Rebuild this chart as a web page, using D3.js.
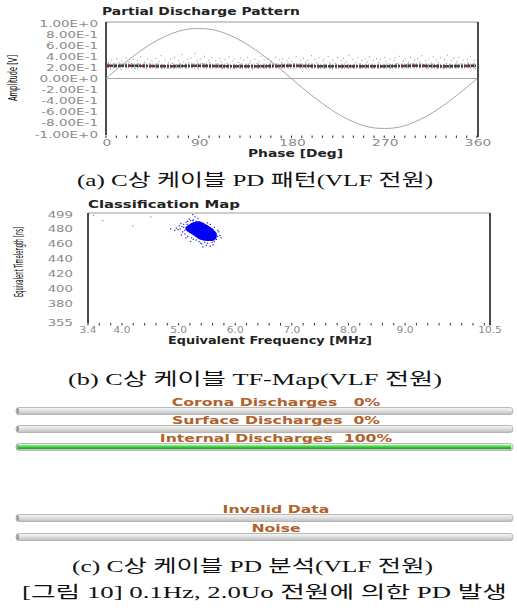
<!DOCTYPE html>
<html>
<head>
<meta charset="utf-8">
<script src="https://cdn.jsdelivr.net/npm/d3@7"></script>
<style>
  body { margin: 0; background: #fff; }
  svg { display: block; }
  .tick-lbl { font-family: "DejaVu Sans", Verdana, sans-serif; font-size: 9.5px; fill: #8a8a8a; }
  .ttl { font-family: "DejaVu Sans", Verdana, sans-serif; font-weight: bold; font-size: 10px; fill: #222; }
  .ylab { font-family: "Liberation Sans Narrow", "DejaVu Sans Condensed", sans-serif; font-size: 12.5px; fill: #000; }
  .cap { font-family: "Liberation Serif", "DejaVu Serif", "Noto Sans CJK KR", serif; font-size: 17px; fill: #111; }
  .barlbl { font-family: "DejaVu Sans", Verdana, sans-serif; font-weight: bold; font-size: 9.8px; fill: #b0612c; white-space: pre; }
</style>
</head>
<body>
<div id="fig"></div>
<script>
// ---- données ----

// (a) motif de décharges partielles
const phaseLabels = [0, 90, 180, 270, 360]
const ampLabels = ["1.00E+0", "8.00E-1", "6.00E-1", "4.00E-1", "2.00E-1", "0.00E+0",
  "-2.00E-1", "-4.00E-1", "-6.00E-1", "-8.00E-1", "-1.00E+0"]
const ampValues = [1, 0.8, 0.6, 0.4, 0.2, 0, -0.2, -0.4, -0.6, -0.8, -1]

// onde de référence (lue tous les 10 deg)
const wavePhase = [0,10,20,30,40,50,60,70,80,90,100,110,120,130,140,150,160,170,180,
  190,200,210,220,230,240,250,260,270,280,290,300,310,320,330,340,350,360]
const waveAmp = [0,0.16,0.31,0.45,0.58,0.69,0.78,0.85,0.89,0.9,0.89,0.85,0.78,0.69,0.58,0.45,0.31,0.16,0,
  -0.16,-0.31,-0.45,-0.58,-0.69,-0.78,-0.85,-0.89,-0.9,-0.89,-0.85,-0.78,-0.69,-0.58,-0.45,-0.31,-0.16,0]

// bande dense des impulsions
const corePhase = [1, 30, 60, 90, 120, 150, 180, 210, 240, 270, 300, 330, 359]
const coreAmp = [0.23, 0.23, 0.22, 0.23, 0.22, 0.22, 0.23, 0.22, 0.22, 0.22, 0.23, 0.22, 0.23]

// impulsions isolées [phase, amplitude]
const pdPoints = [[2,0.30],[4,0.18],[5,0.34],[7,0.27],[9,0.21],[10,0.36],[12,0.29],[14,0.17],[15,0.32],[17,0.26],
  [19,0.38],[21,0.20],[22,0.31],[24,0.28],[26,0.35],[28,0.19],[30,0.33],[31,0.27],[33,0.40],[35,0.24],[37,0.30],
  [39,0.18],[40,0.36],[42,0.29],[44,0.33],[46,0.21],[48,0.37],[50,0.27],[51,0.31],[53,0.42],[55,0.25],[57,0.34],
  [59,0.19],[60,0.30],[62,0.36],[64,0.28],[66,0.39],[68,0.22],[70,0.33],[71,0.27],[73,0.44],[75,0.31],[77,0.20],
  [79,0.35],[80,0.29],[82,0.38],[84,0.25],[86,0.46],[88,0.32],[89,0.18],[91,0.36],[93,0.28],[95,0.41],[97,0.24],
  [99,0.34],[100,0.30],[102,0.39],[104,0.21],[106,0.33],[108,0.27],[110,0.37],[111,0.31],[113,0.19],[115,0.35],
  [117,0.28],[119,0.40],[120,0.26],[122,0.32],[124,0.36],[126,0.20],[128,0.30],[130,0.38],[131,0.27],[133,0.34],
  [135,0.22],[137,0.39],[139,0.29],[140,0.33],[142,0.18],[144,0.36],[146,0.28],[148,0.31],[150,0.41],[151,0.25],
  [153,0.34],[155,0.20],[157,0.37],[159,0.29],[160,0.32],[162,0.27],[164,0.39],[166,0.21],[168,0.35],[170,0.30],
  [171,0.36],[173,0.24],[175,0.33],[177,0.38],[179,0.19],[180,0.31],[182,0.28],[184,0.40],[186,0.25],[188,0.34],
  [190,0.21],[191,0.37],[193,0.30],[195,0.33],[197,0.27],[199,0.42],[200,0.23],[202,0.35],[204,0.29],[206,0.38],
  [208,0.20],[210,0.32],[211,0.36],[213,0.26],[215,0.41],[217,0.30],[219,0.18],[220,0.34],[222,0.28],[224,0.39],
  [226,0.23],[228,0.33],[230,0.37],[231,0.27],[233,0.31],[235,0.43],[237,0.25],[239,0.35],[240,0.20],[242,0.30],
  [244,0.38],[246,0.28],[248,0.34],[250,0.22],[251,0.36],[253,0.31],[255,0.40],[257,0.26],[259,0.33],[260,0.19],
  [262,0.37],[264,0.29],[266,0.35],[268,0.24],[270,0.39],[271,0.31],[273,0.27],[275,0.36],[277,0.21],[279,0.33],
  [280,0.38],[282,0.28],[284,0.41],[286,0.25],[288,0.32],[290,0.36],[291,0.20],[293,0.30],[295,0.39],[297,0.27],
  [299,0.34],[300,0.23],[302,0.37],[304,0.31],[306,0.42],[308,0.26],[310,0.33],[311,0.19],[313,0.36],[315,0.29],
  [317,0.40],[319,0.24],[320,0.34],[322,0.30],[324,0.38],[326,0.21],[328,0.35],[330,0.28],[331,0.43],[333,0.26],
  [335,0.33],[337,0.37],[339,0.20],[340,0.31],[342,0.39],[344,0.27],[346,0.34],[348,0.23],[350,0.36],[351,0.30],
  [353,0.41],[355,0.25],[357,0.33],[358,0.19]]

// (b) carte de classification
const freqLabels = ["3.4", "4.0", "5.0", "6.0", "7.0", "8.0", "9.0", "10.5"]
const freqValues = [3.4, 4.0, 5.0, 6.0, 7.0, 8.0, 9.0, 10.5]
const timeValues = [499, 480, 460, 440, 420, 400, 380, 355]

// contour du nuage dense [MHz, ns]
const clusterOutline = [[5.17,483],[5.26,487],[5.38,488],[5.48,484],[5.59,479],[5.66,472],
  [5.63,465],[5.50,464],[5.38,466],[5.26,472],[5.17,476],[5.13,480]]
// points autour du nuage
const clusterDots = [[5.02,480],[4.98,479],[5.05,483],[5.08,486],[5.10,478],[5.12,489],[5.15,490],[5.20,491],
  [5.25,492],[5.30,490],[5.35,489],[5.40,488],[5.45,486],[5.50,484],[5.55,481],[5.60,478],[5.65,474],[5.68,470],
  [5.66,466],[5.62,463],[5.58,462],[5.50,461],[5.45,462],[5.40,460],[5.35,463],[5.30,465],[5.22,468],[5.15,470],
  [5.10,473],[5.06,476],[4.92,478],[4.85,480],[5.00,484],[5.18,493],[5.33,494],[5.50,488],[5.62,482],[5.70,476],
  [5.72,471],[5.60,459],[5.48,458],[5.38,461],[5.25,466],[5.12,468],[5.04,472],[5.24,491],[5.28,496],[5.24,499],
  [4.95,481],[5.03,487],[5.55,486],[5.68,478],[5.74,468],[5.55,457],[5.42,456],[5.20,463],[5.08,482],[5.14,486]]
const strayDots = [[3.49,498],[3.65,491],[4.18,484],[4.50,496]]

// (c) analyse PD
const classNames = ["Corona Discharges", "Surface Discharges", "Internal Discharges", "Invalid Data", "Noise"]
const classPct = [0, 0, 100, null, null]
const pctText = ["   0%", "  0%", "  100%", "", ""]

const captions = ["(a) C상 케이블 PD 패턴(VLF 전원)", "(b) C상 케이블 TF-Map(VLF 전원)",
  "(c) C상 케이블 PD 분석(VLF 전원)", "[그림 10]  0.1Hz, 2.0Uo 전원에 의한 PD 발생"]

// ---- dessin ----
const W = 517, H = 612
const svg = d3.select("#fig").append("svg").attr("width", W).attr("height", H)

// la capture est étirée en largeur
const sx = (x, y, k) => `translate(${x},${y}) scale(${k},1)`

const defs = svg.append("defs")
const gGray = defs.append("linearGradient").attr("id", "barGray").attr("x1", 0).attr("y1", 0).attr("x2", 0).attr("y2", 1)
gGray.append("stop").attr("offset", "0%").attr("stop-color", "#f7f7f7")
gGray.append("stop").attr("offset", "50%").attr("stop-color", "#dedede")
gGray.append("stop").attr("offset", "100%").attr("stop-color", "#bdbdbd")
const gGreen = defs.append("linearGradient").attr("id", "barGreen").attr("x1", 0).attr("y1", 0).attr("x2", 0).attr("y2", 1)
gGreen.append("stop").attr("offset", "0%").attr("stop-color", "#9ff09f")
gGreen.append("stop").attr("offset", "50%").attr("stop-color", "#2fd02f")
gGreen.append("stop").attr("offset", "100%").attr("stop-color", "#1c9e1c")

// ===== (a) =====
const x1 = d3.scaleLinear().domain([0, 360]).range([106, 477])
const y1 = d3.scaleLinear().domain([-1, 1]).range([134, 23])

svg.append("text").attr("class", "ttl").attr("x", 102).attr("y", 15)
  .attr("textLength", 198).attr("lengthAdjust", "spacingAndGlyphs").text("Partial Discharge Pattern")

// cadre
svg.append("line").attr("x1", x1(0)).attr("x2", x1(360) + 1).attr("y1", 22).attr("y2", 22).attr("stroke", "#9a9a9a")
svg.append("line").attr("x1", x1(0)).attr("x2", x1(0)).attr("y1", 22).attr("y2", 135).attr("stroke", "#111").attr("stroke-width", 1.5)
svg.append("line").attr("x1", x1(360) + 1).attr("x2", x1(360) + 1).attr("y1", 22).attr("y2", 137).attr("stroke", "#111").attr("stroke-width", 1.5)

// axe Y
svg.append("g").selectAll("text").data(ampValues).join("text")
  .attr("class", "tick-lbl").attr("text-anchor", "end")
  .attr("transform", d => sx(98, y1(d) + 3.5, 1.42))
  .text((d, i) => ampLabels[i])

svg.append("text").attr("class", "ylab").attr("text-anchor", "middle")
  .attr("transform", "translate(17,78) rotate(-90)")
  .attr("textLength", 46).attr("lengthAdjust", "spacingAndGlyphs").text("Amplitude [V]")

// axe X : petits traits tous les 10 deg
svg.append("g").selectAll("line").data(d3.range(0, 361, 10)).join("line")
  .attr("x1", d => x1(d)).attr("x2", d => x1(d)).attr("y1", 135.5).attr("y2", 138)
  .attr("stroke", "#333").attr("stroke-width", 1)
svg.append("g").selectAll("text").data(phaseLabels).join("text")
  .attr("class", "tick-lbl").attr("text-anchor", "middle")
  .attr("transform", d => sx(x1(d) + 1, 146, 1.45)).text(d => d)
svg.append("text").attr("class", "ttl").attr("x", 248).attr("y", 157)
  .attr("textLength", 95).attr("lengthAdjust", "spacingAndGlyphs").text("Phase [Deg]")

// ligne zéro et onde
svg.append("line").attr("x1", x1(0)).attr("x2", x1(360)).attr("y1", y1(0)).attr("y2", y1(0))
  .attr("stroke", "#a8a8a8").attr("stroke-width", 1)
svg.append("path")
  .datum(wavePhase.map((p, i) => [p, waveAmp[i]]))
  .attr("d", d3.line().x(d => x1(d[0])).y(d => y1(d[1])).curve(d3.curveCatmullRom))
  .attr("fill", "none").attr("stroke", "#9a9a9a").attr("stroke-width", 0.9)

// impulsions
svg.append("g").selectAll("rect").data(pdPoints).join("rect")
  .attr("x", d => x1(d[0])).attr("y", d => y1(d[1]))
  .attr("width", 1).attr("height", 1).attr("fill", "#6a6a6a").attr("opacity", 0.75)

const coreLine = d3.line().x(d => x1(d[0])).y(d => y1(d[1]))
const core = corePhase.map((p, i) => [p, coreAmp[i]])
svg.append("path").datum(core).attr("d", coreLine)
  .attr("fill", "none").attr("stroke", "#a5a5a5").attr("stroke-width", 5).attr("stroke-dasharray", "2 1 1 2")
svg.append("path").datum(core).attr("d", coreLine)
  .attr("fill", "none").attr("stroke", "#3c3c3c").attr("stroke-width", 2.6).attr("stroke-dasharray", "3 1 2 1")
svg.append("path").datum(core).attr("d", coreLine)
  .attr("fill", "none").attr("stroke", "#7d2f42").attr("stroke-width", 1.8).attr("stroke-dasharray", "4 9 2 6")

svg.append("text").attr("class", "cap").attr("x", 77).attr("y", 186)
  .attr("textLength", 356).attr("lengthAdjust", "spacingAndGlyphs").text(captions[0])

// ===== (b) =====
const x2 = d3.scaleLinear().domain([3.4, 10.5]).range([88, 490])
const y2 = d3.scaleLinear().domain([355, 499]).range([322, 214])

svg.append("text").attr("class", "ttl").attr("x", 88).attr("y", 208)
  .attr("textLength", 152).attr("lengthAdjust", "spacingAndGlyphs").text("Classification Map")

svg.append("line").attr("x1", x2(3.4)).attr("x2", x2(10.5)).attr("y1", 213).attr("y2", 213).attr("stroke", "#9a9a9a")
svg.append("line").attr("x1", x2(3.4)).attr("x2", x2(3.4)).attr("y1", 213).attr("y2", 323).attr("stroke", "#111").attr("stroke-width", 1.5)
svg.append("line").attr("x1", x2(10.5)).attr("x2", x2(10.5)).attr("y1", 213).attr("y2", 325).attr("stroke", "#111").attr("stroke-width", 1.5)

svg.append("g").selectAll("text").data(timeValues).join("text")
  .attr("class", "tick-lbl").attr("text-anchor", "end")
  .attr("transform", d => sx(73, y2(d) + 3.5, 1.4)).text(d => d)

svg.append("text").attr("class", "ylab").attr("text-anchor", "middle")
  .attr("transform", "translate(23,262) rotate(-90)")
  .attr("textLength", 70).attr("lengthAdjust", "spacingAndGlyphs").text("Equivalent Timelength [ns]")

svg.append("g").selectAll("line").data(d3.range(3.4, 10.45, 0.2).concat([10.5])).join("line")
  .attr("x1", d => x2(d)).attr("x2", d => x2(d)).attr("y1", 323).attr("y2", 325.5)
  .attr("stroke", "#333").attr("stroke-width", 1)
svg.append("g").selectAll("text").data(freqValues).join("text")
  .attr("class", "tick-lbl").attr("text-anchor", "middle")
  .attr("transform", d => sx(x2(d), 332.5, 1.12)).text((d, i) => freqLabels[i])
svg.append("text").attr("class", "ttl").attr("x", 168).attr("y", 344)
  .attr("textLength", 204).attr("lengthAdjust", "spacingAndGlyphs").text("Equivalent Frequency [MHz]")

svg.append("path").datum(clusterOutline)
  .attr("d", d3.line().x(d => x2(d[0])).y(d => y2(d[1])).curve(d3.curveCardinalClosed))
  .attr("fill", "#0000f5").attr("stroke", "#0000f5").attr("stroke-width", 1.5)
svg.append("g").selectAll("rect").data(clusterDots).join("rect")
  .attr("x", d => x2(d[0])).attr("y", d => y2(d[1])).attr("width", 1.2).attr("height", 1.2)
  .attr("fill", "#1a1ae0")
svg.append("g").selectAll("rect").data(strayDots).join("rect")
  .attr("x", d => x2(d[0])).attr("y", d => y2(d[1])).attr("width", 1.2).attr("height", 1.2)
  .attr("fill", "#d06a80")

svg.append("text").attr("class", "cap").attr("x", 68).attr("y", 385)
  .attr("textLength", 374).attr("lengthAdjust", "spacingAndGlyphs").text(captions[1])

// ===== (c) =====
const barY = [411, 429, 447, 518, 537]
const xb = d3.scaleLinear().domain([0, 100]).range([18, 511])
const barH = 7

const rows = svg.append("g").selectAll("g").data(classNames).join("g")
  .attr("transform", (d, i) => `translate(0,${barY[i]})`)

rows.append("rect").attr("x", 16).attr("y", -barH / 2).attr("width", 497).attr("height", barH)
  .attr("rx", 3).attr("fill", "url(#barGray)").attr("stroke", "#a9a9a9").attr("stroke-width", 0.8)
rows.append("rect").attr("x", 16.5).attr("y", -barH / 2 + 1).attr("width", 2.5).attr("height", barH - 2)
  .attr("fill", "#9c9c9c")
rows.filter((d, i) => classPct[i] > 0).append("rect")
  .attr("x", xb(0)).attr("y", -barH / 2 + 1.5)
  .attr("width", d => xb(classPct[classNames.indexOf(d)]) - xb(0)).attr("height", barH - 3)
  .attr("fill", "url(#barGreen)")

rows.append("text").attr("class", "barlbl").attr("text-anchor", "middle")
  .attr("transform", sx(276, -5.5, 1.6))
  .text((d, i) => d + pctText[i])

svg.append("text").attr("class", "cap").attr("x", 72).attr("y", 572)
  .attr("textLength", 361).attr("lengthAdjust", "spacingAndGlyphs").text(captions[2])
svg.append("text").attr("class", "cap").attr("x", 22).attr("y", 598)
  .attr("textLength", 485).attr("lengthAdjust", "spacingAndGlyphs").text(captions[3])
</script>
</body>
</html>
